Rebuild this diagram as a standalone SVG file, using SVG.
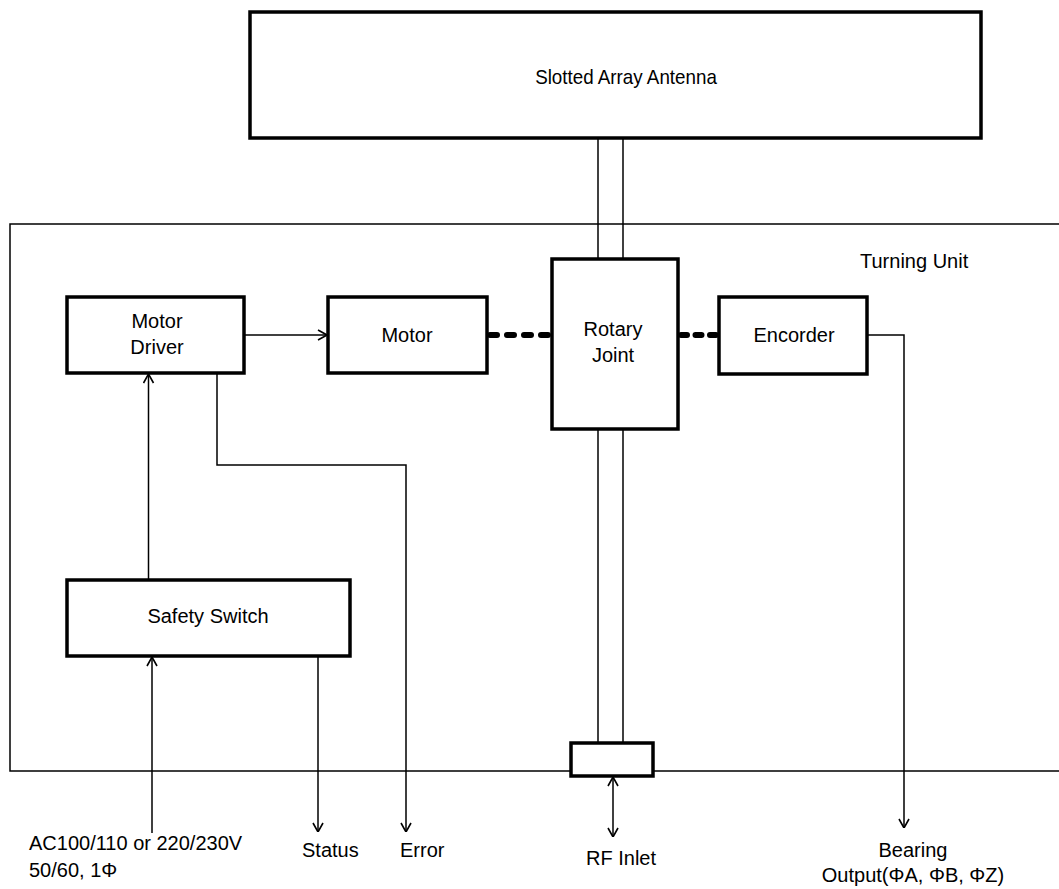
<svg xmlns="http://www.w3.org/2000/svg" width="1059" height="889" viewBox="0 0 1059 889">
<style>
.box{fill:#fff;stroke:#000;stroke-width:3.5}
.thin{fill:none;stroke:#000;stroke-width:1.5}
.con{fill:none;stroke:#000;stroke-width:1.5}
.dash{fill:none;stroke:#000;stroke-width:6;stroke-linecap:round}
text{font-family:"Liberation Sans",Arial,"Noto Sans CJK JP",sans-serif;font-size:20px;fill:#000}
.c{text-anchor:middle}
</style>
<defs>
<marker id="arr" viewBox="0 0 10 12" refX="10" refY="6" markerWidth="10" markerHeight="12" markerUnits="userSpaceOnUse" orient="auto-start-reverse">
<path d="M1,1 L10,6 L1,11" fill="none" stroke="#000" stroke-width="1.6"/>
</marker>
</defs>
<rect width="1059" height="889" fill="#fff"/>
<g id="turning-unit">
<path class="thin" d="M1065,224 H10 V771 H1065"/>
<text x="860" y="268">Turning Unit</text>
</g>
<g id="shaft">
<line class="thin" x1="598" y1="138" x2="598" y2="743"/>
<line class="thin" x1="623" y1="138" x2="623" y2="743"/>
</g>
<g id="antenna">
<rect class="box" x="250" y="12" width="731" height="126" stroke-width="3"/>
<text class="c" transform="translate(626,84) scale(0.94,1)" font-size="22">Slotted Array Antenna</text>
</g>
<g id="motor-driver">
<rect class="box" x="67" y="297" width="177" height="76"/>
<text class="c" x="157" y="328">Motor</text>
<text class="c" x="157" y="354">Driver</text>
</g>
<g id="motor">
<rect class="box" x="328" y="297" width="159" height="76" stroke-width="3"/>
<text class="c" x="407" y="342">Motor</text>
</g>
<g id="rotary-joint">
<rect class="box" x="552" y="259" width="126" height="170" stroke-width="3"/>
<text class="c" x="613" y="336">Rotary</text>
<text class="c" x="613" y="362">Joint</text>
</g>
<g id="encoder">
<rect class="box" x="719" y="297" width="148" height="77" stroke-width="3"/>
<text class="c" x="794" y="342">Encorder</text>
</g>
<g id="safety-switch">
<rect class="box" x="67" y="580" width="283" height="76"/>
<text class="c" x="208" y="623">Safety Switch</text>
</g>
<g id="rf-inlet">
<rect class="box" x="571" y="743" width="82" height="33" stroke-width="2.5"/>
</g>
<g id="connectors">
<line class="con" x1="244" y1="335" x2="327" y2="335" marker-end="url(#arr)"/>
<line class="dash" x1="490" y1="335" x2="549" y2="335" stroke-dasharray="7 10"/>
<line class="dash" x1="681" y1="335" x2="716" y2="335" stroke-dasharray="6 8.5"/>
<line class="con" x1="148.5" y1="580" x2="148.5" y2="374" marker-end="url(#arr)"/>
<path class="con" d="M217,373 V465 H406 V832" marker-end="url(#arr)"/>
<line class="con" x1="318" y1="656" x2="318" y2="832" marker-end="url(#arr)"/>
<line class="con" x1="152" y1="833" x2="152" y2="657" marker-end="url(#arr)"/>
<line class="con" x1="613" y1="777" x2="613" y2="837" marker-start="url(#arr)" marker-end="url(#arr)"/>
<path class="con" d="M867,335 H904 V828" marker-end="url(#arr)"/>
</g>
<g id="labels">
<text x="29" y="850">AC100/110 or 220/230V</text>
<text x="29" y="877">50/60, 1Φ</text>
<text x="302" y="857">Status</text>
<text x="400" y="857">Error</text>
<text class="c" x="621" y="865">RF Inlet</text>
<text class="c" x="913" y="857">Bearing</text>
<text class="c" x="913" y="882">Output(ΦA, ΦB, ΦZ)</text>
</g>
</svg>
